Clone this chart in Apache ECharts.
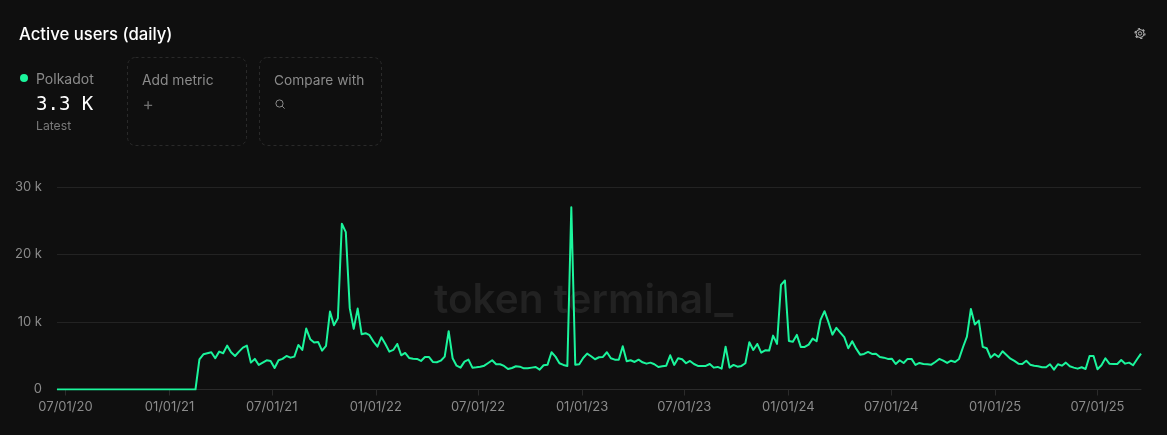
<!DOCTYPE html>
<html><head><meta charset="utf-8">
<style>html,body{margin:0;padding:0;background:#0f0f0f}#c{width:1167px;height:435px}</style>
<script src="https://cdn.jsdelivr.net/npm/echarts@6/dist/echarts.min.js"></script>
</head><body><div id="c"></div>
<script>
const title = "Active users (daily)";
const seriesName = "Polkadot";
const latestValue = "3.3 K";
const xTickDates = ["2020-07-01","2021-01-01","2021-07-01","2022-01-01","2022-07-01","2023-01-01","2023-07-01","2024-01-01","2024-07-01","2025-01-01","2025-07-01"];
const yTicks = [0,10000,20000,30000];
const firstWeek = "2020-06-16";
const activeUsers = [
0,0,0,0,0,0,0,0,0,0,0,0,0,0,0,0,0,0,0,0,0,0,0,0,0,0,0,0,0,0,0,0,0,0,0,0,
4480,5220,5370,5520,4630,5610,5370,6500,5520,4970,5610,6200,6500,3980,4530,3640,3980,4330,4230,3190,
4330,4530,4970,4720,4870,6600,5860,9030,7450,6950,7050,5760,6460,11550,9530,10570,24560,23320,12050,8980,11990,8190,
8340,8040,7090,6350,7750,6750,5610,5860,6750,5070,5420,4670,4570,4530,4230,4820,4820,4080,
4030,4270,4870,8640,4630,3530,3240,4130,4420,3240,3290,3380,3530,3930,4330,3740,3740,3490,3040,
3190,3440,3380,3140,3140,3240,3340,2940,3590,3680,5520,4870,3890,3640,3490,27000,3680,3740,4670,5310,4930,
4480,4780,4820,5520,4630,4420,4420,6410,4180,4330,4080,4420,4030,3830,3980,3740,3340,3440,3530,5070,
3640,4630,4480,3890,4230,3780,3490,3490,3490,3780,3240,3340,3090,6350,3240,3640,3380,3490,3890,7000,
5860,6750,5460,5810,5760,7980,6750,15510,16150,7200,7090,8090,6310,6310,6650,7540,7150,10310,11600,9970,
8130,9130,8430,7750,6110,7150,6050,5160,5270,5560,5270,5310,4820,4720,4530,4570,3780,4330,3930,4530,
4530,3640,3930,3780,3740,3680,4080,4530,4270,3930,4270,4080,4530,6260,7840,11940,9620,10210,6310,6110,
4720,5270,4820,5670,5120,4570,4230,3830,3780,4270,3680,3530,3440,3290,3290,3740,2940,3740,3530,3980,
3440,3240,3090,3290,3040,4970,4970,2990,3590,4630,3830,3780,3780,4380,3830,3980,3590,4480,5310
];
const DAY = 86400000;
const t0 = Date.parse(firstWeek + "T00:00:00Z");
const points = activeUsers.map((v, i) => [t0 + i * 7 * DAY, v]);
const tickStamps = xTickDates.map(d => Date.parse(d + "T00:00:00Z"));
const fmtDate = v => { const d = new Date(v); const p = n => String(n).padStart(2, "0");
  return p(d.getUTCMonth() + 1) + "/" + p(d.getUTCDate()) + "/" + p(d.getUTCFullYear() % 100); };

const FONT = "Inter, 'Noto Sans', sans-serif";
const GREEN = "#1bf59c", GREY = "#8b8b8b", DASH = "#2a2a2a";
const txt = (x, y, text, size, fill, extra) => ({ type: "text", x, y, silent: true, z: 10,
  style: Object.assign({ text, fill, font: size + "px " + FONT, textVerticalAlign: "middle" }, extra || {}) });
const box = (x, y, w, h) => ({ type: "rect", x, y, silent: true, z: 1,
  shape: { width: w, height: h, r: 8 }, style: { fill: "none", stroke: DASH, lineWidth: 1, lineDash: [3, 3] } });

const chart = echarts.init(document.getElementById("c"), null, { renderer: "canvas" });
chart.setOption({
  animation: false,
  backgroundColor: "#0f0f0f",
  grid: { left: 57, right: 26, top: 187, bottom: 45.5 },
  xAxis: {
    type: "value",
    min: points[0][0],
    max: points[points.length - 1][0],
    axisLine: { show: true, lineStyle: { color: "#2b2b2b", width: 1 } },
    axisTick: { show: true, length: 6, customValues: tickStamps, lineStyle: { color: "#2b2b2b" } },
    splitLine: { show: false },
    axisLabel: { customValues: tickStamps, formatter: fmtDate, color: GREY, fontFamily: FONT, fontSize: 13, margin: 11, hideOverlap: false }
  },
  yAxis: {
    type: "value", min: 0, max: 30000, interval: 10000,
    axisLine: { show: false }, axisTick: { show: false },
    splitLine: { lineStyle: { color: "#232323", width: 1 } },
    axisLabel: { margin: 15, color: GREY, fontFamily: FONT, fontSize: 13, formatter: v => yTicks.includes(v) && v ? (v / 1000) + " k" : "0" }
  },
  series: [{
    name: seriesName, type: "line", data: points, showSymbol: false, symbol: "none", smooth: false,
    lineStyle: { color: GREEN, width: 2, join: "round" }, itemStyle: { color: GREEN }, z: 5
  }],
  graphic: { elements: [
    { type: "text", x: 434, y: 301, silent: true, z: 0,
      style: { text: "token terminal_", fill: "#222222", font: "600 40.5px " + FONT, textVerticalAlign: "middle" } },
    txt(19, 35, title, 16.7, "#ffffff", { font: "500 16.7px " + FONT }),
    { type: "circle", silent: true, z: 10, shape: { cx: 24, cy: 78, r: 4 }, style: { fill: GREEN } },
    txt(36, 79.5, seriesName, 14, GREY),
    txt(36, 105, latestValue, 19, "#ffffff", { font: "19px 'DejaVu Sans Mono', monospace" }),
    txt(36, 126, "Latest", 12.2, "#7a7a7a"),
    box(127.5, 57.5, 119, 88),
    box(259.5, 57.5, 122, 88),
    txt(142, 81, "Add metric", 13.8, GREY),
    txt(142.5, 104.5, "+", 17, "#6f6f6f"),
    txt(274, 81, "Compare with", 13.7, GREY),
    { type: "circle", silent: true, z: 10, shape: { cx: 279.5, cy: 103.5, r: 3.6 }, style: { fill: "none", stroke: "#8b8b8b", lineWidth: 1 } },
    { type: "line", silent: true, z: 10, shape: { x1: 282.2, y1: 106.2, x2: 284.6, y2: 108.6 }, style: { stroke: "#8b8b8b", lineWidth: 1 } },
    { type: "circle", silent: true, z: 10, shape: { cx: 1140, cy: 33.5, r: 1.7 }, style: { fill: "none", stroke: "#b5b5b5", lineWidth: 1 } },
    { type: "circle", silent: true, z: 10, shape: { cx: 1140, cy: 33.5, r: 4 }, style: { fill: "none", stroke: "#b5b5b5", lineWidth: 1 } },
    { type: "circle", silent: true, z: 10, shape: { cx: 1140, cy: 33.5, r: 5 }, style: { fill: "none", stroke: "#b5b5b5", lineWidth: 1.2, lineDash: [2.2, 3] } }
  ] }
});
</script></body></html>
